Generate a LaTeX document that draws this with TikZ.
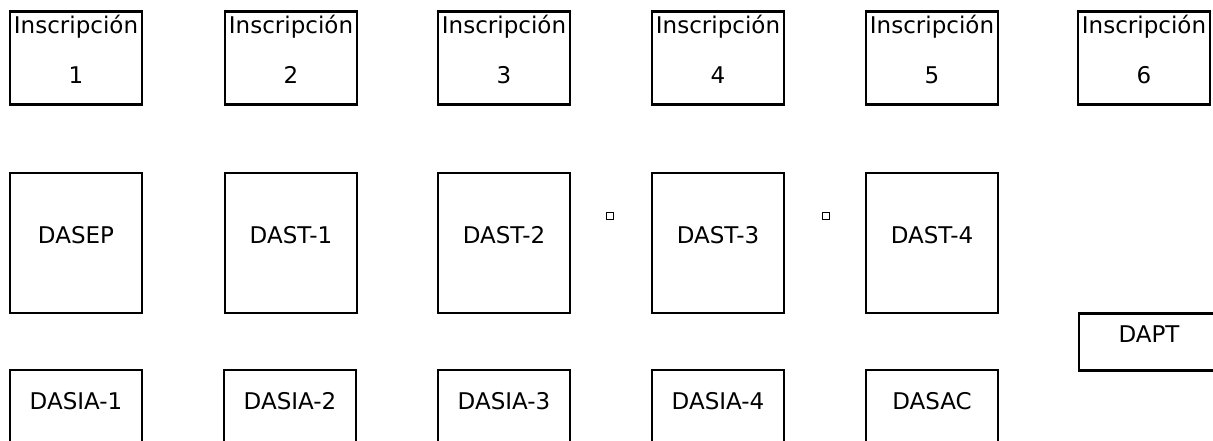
\documentclass[tikz,border=0pt]{standalone}
\usepackage{fontspec}
\setmainfont{DejaVu Sans}

\begin{document}
\begin{tikzpicture}[x=1pt,y=-1pt]
        \tikzstyle{box}=[draw=black,line width=2.5pt,minimum width=132pt,inner sep=0pt,font=\fontsize{23pt}{27pt}\selectfont]
        \tikzstyle{topbox}=[box,minimum height=93pt]
        \tikzstyle{toptext}=[anchor=north,align=center,inner sep=0pt,font=\fontsize{23pt}{50pt}\selectfont]
        \tikzstyle{midbox}=[box,minimum height=140pt,text height=12pt,text depth=12pt]
        \tikzstyle{lowbox}=[box,minimum height=78pt,text height=12pt,text depth=12pt]
        \tikzstyle{tick}=[draw=black,line width=1.2pt,minimum size=7pt,inner sep=0pt]
        \clip (0,0) rectangle (1213,441);
        \fill[white] (0,0) rectangle (1213,441);
        % inscripciones
        \node[topbox] (ins1) at (76,58) {};
        \node[toptext] (ins1t) at (76,15) {Inscripción\\1};
        \node[topbox] (ins2) at (291,58) {};
        \node[toptext] (ins2t) at (291,15) {Inscripción\\2};
        \node[topbox] (ins3) at (504,58) {};
        \node[toptext] (ins3t) at (504,15) {Inscripción\\3};
        \node[topbox] (ins4) at (718,58) {};
        \node[toptext] (ins4t) at (718,15) {Inscripción\\4};
        \node[topbox] (ins5) at (932,58) {};
        \node[toptext] (ins5t) at (932,15) {Inscripción\\5};
        \node[topbox] (ins6) at (1144,58) {};
        \node[toptext] (ins6t) at (1144,15) {Inscripción\\6};
        % segunda fila
        \node[midbox] (dasep) at (76,243) {DASEP};
        \node[midbox] (dast1) at (291,243) {DAST-1};
        \node[midbox] (dast2) at (504,243) {DAST-2};
        \node[midbox] (dast3) at (718,243) {DAST-3};
        \node[midbox] (dast4) at (932,243) {DAST-4};
        \node[tick] (mark1) at (610,216) {};
        \node[tick] (mark2) at (826,216) {};
        \node[box,minimum width=140pt,minimum height=57pt,text height=12pt,text depth=12pt] (dapt) at (1149,342) {DAPT};
        % tercera fila
        \node[lowbox] (dasia1) at (76,409) {DASIA-1};
        \node[lowbox] (dasia2) at (290,409) {DASIA-2};
        \node[lowbox] (dasia3) at (504,409) {DASIA-3};
        \node[lowbox] (dasia4) at (718,409) {DASIA-4};
        \node[lowbox] (dasac) at (932,409) {DASAC};
    \end{tikzpicture}
\end{document}
